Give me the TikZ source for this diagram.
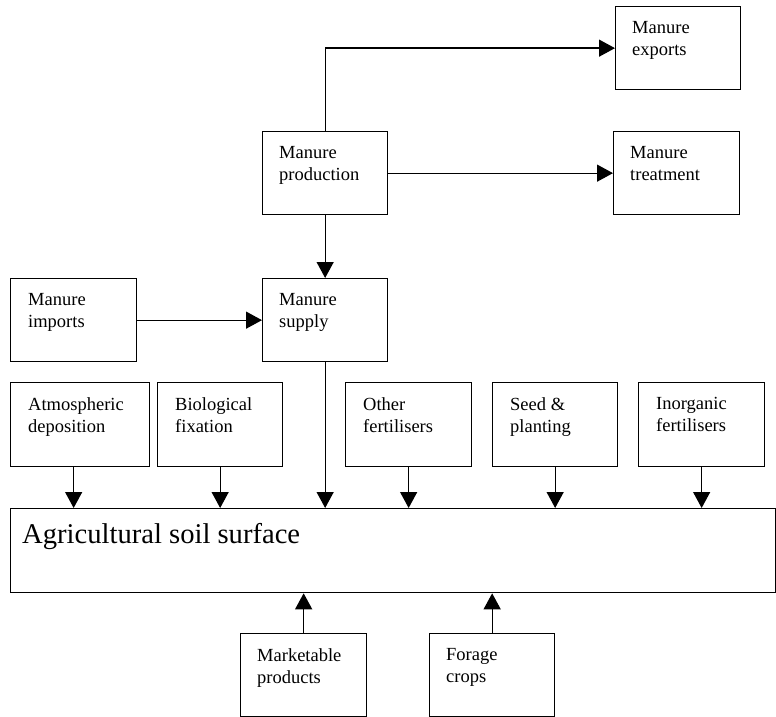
\documentclass[tikz,border=0pt]{standalone}
\usepackage{fontspec}
\setmainfont{Liberation Serif}
\usetikzlibrary{arrows.meta}
\begin{document}
\begin{tikzpicture}[x=1pt,y=-1pt,
  box/.style={draw, line width=1.3pt, anchor=north west, inner sep=0pt},
  txt/.style={anchor=north west, inner sep=0pt, align=left,
    font=\fontsize{18.5pt}{22pt}\selectfont},
  bigtxt/.style={anchor=north west, inner sep=0pt,
    font=\fontsize{28.6pt}{33pt}\selectfont},
  arr/.style={line width=1.3pt, -{Triangle[length=16pt,width=17pt]}}]
\useasboundingbox (0,0) rectangle (776,717);
% boxes
\node[box, minimum width=125pt, minimum height=83pt] (exp) at (615,6) {};
\node[box, minimum width=126pt, minimum height=83pt] (treat) at (613,131) {};
\node[box, minimum width=125pt, minimum height=83pt] (prod) at (262,131) {};
\node[box, minimum width=126pt, minimum height=83pt] (imp) at (10,278) {};
\node[box, minimum width=125pt, minimum height=83pt] (sup) at (262,278) {};
\node[box, minimum width=139pt, minimum height=84pt] (atm) at (10,382) {};
\node[box, minimum width=125pt, minimum height=84pt] (bio) at (157,382) {};
\node[box, minimum width=126pt, minimum height=84pt] (oth) at (345,382) {};
\node[box, minimum width=125pt, minimum height=84pt] (seed) at (492,382) {};
\node[box, minimum width=126pt, minimum height=84pt] (inorg) at (638,382) {};
\node[box, minimum width=765pt, minimum height=84pt] (soil) at (10,508) {};
\node[box, minimum width=126pt, minimum height=83pt] (mark) at (240,633) {};
\node[box, minimum width=125pt, minimum height=83pt] (forage) at (429,633) {};
% texts
\node[txt] (expT) at ([shift={(17,15)}]exp.north west) {Manure\\exports};
\node[txt] (treatT) at ([shift={(17,15)}]treat.north west) {Manure\\treatment};
\node[txt] (prodT) at ([shift={(17,15)}]prod.north west) {Manure\\production};
\node[txt] (impT) at ([shift={(18,15)}]imp.north west) {Manure\\imports};
\node[txt] (supT) at ([shift={(17,15)}]sup.north west) {Manure\\supply};
\node[txt] (atmT) at ([shift={(18,15)}]atm.north west) {Atmospheric\\deposition};
\node[txt] (bioT) at ([shift={(18,15)}]bio.north west) {Biological\\fixation};
\node[txt] (othT) at ([shift={(18,15)}]oth.north west) {Other\\fertilisers};
\node[txt] (seedT) at ([shift={(18,15)}]seed.north west) {Seed \&\\planting};
\node[txt] (inorgT) at ([shift={(18,15)}]inorg.north west) {Inorganic\\fertilisers};
\node[bigtxt] (soilT) at ([shift={(12,15.5)}]soil.north west) {Agricultural soil surface};
\node[txt] (markT) at ([shift={(17,15)}]mark.north west) {Marketable\\products};
\node[txt] (forageT) at ([shift={(17,15)}]forage.north west) {Forage\\crops};
% connectors
\coordinate (bend) at (prod.north |- exp.west);
\draw[arr] (prod.north) -- (bend) -- (exp.west);
\draw[arr] (prod.east) -- (treat.west);
\draw[arr] (prod.south) -- (sup.north);
\draw[arr] (imp.east) -- (sup.west);
\draw[arr] ([xshift=-6.5pt]atm.south) -- ([xshift=-6.5pt]atm.south |- soil.north);
\draw[arr] (bio.south) -- (bio.south |- soil.north);
\draw[arr] (sup.south) -- (sup.south |- soil.north);
\draw[arr] (oth.south) -- (oth.south |- soil.north);
\draw[arr] (seed.south) -- (seed.south |- soil.north);
\draw[arr] (inorg.south) -- (inorg.south |- soil.north);
\draw[arr] (mark.north) -- (mark.north |- soil.south);
\draw[arr] (forage.north) -- (forage.north |- soil.south);
\end{tikzpicture}
\end{document}
